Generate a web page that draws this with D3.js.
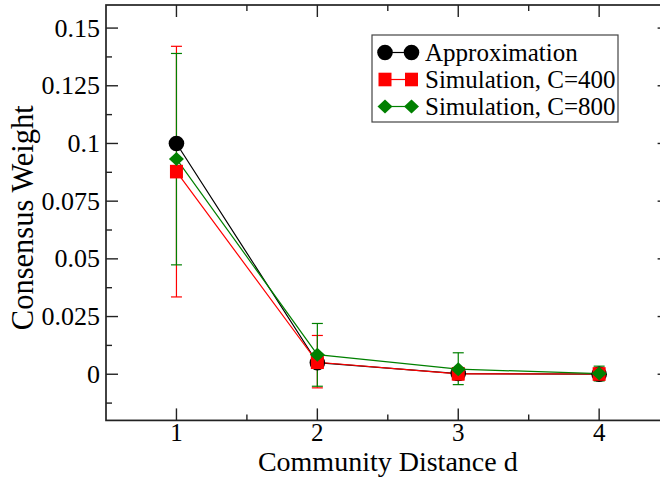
<!DOCTYPE html>
<html>
<head>
<meta charset="utf-8">
<script src="https://cdn.jsdelivr.net/npm/d3@7"></script>
<style>
  body { margin: 0; background: #fff; }
  text { font-family: "Liberation Serif", "Times New Roman", serif; }
</style>
</head>
<body>
<div id="chart"></div>
<script>
// community distances
const distances = [1, 2, 3, 4];

// approximation (black circles)
const approxValues = [0.1, 0.005, 0.0003, 0.00002];

// simulation C=400 (red squares)
const sim400Values = [0.0878, 0.0052, 0.0002, 0.0001];
const sim400Low = [0.0335, -0.0059, -0.0025, -0.0025];
const sim400High = [0.1421, 0.0168, 0.0029, 0.0027];

// simulation C=800 (green diamonds)
const sim800Values = [0.0933, 0.0085, 0.0022, 0.0003];
const sim800Low = [0.0474, -0.0052, -0.0045, -0.0029];
const sim800High = [0.139, 0.022, 0.0093, 0.0035];

const yTicks = [0, 0.025, 0.05, 0.075, 0.1, 0.125, 0.15];
const yTickLabels = ["0", "0.025", "0.05", "0.075", "0.1", "0.125", "0.15"];
const legendLabels = ["Approximation", "Simulation, C=400", "Simulation, C=800"];

const W = 660, H = 477;
const margin = { top: 5, left: 106, right: -9.6, bottom: 56.6 };
const width = W - margin.left - margin.right;
const height = H - margin.top - margin.bottom;

const svg = d3.select("#chart").append("svg")
    .attr("width", W)
    .attr("height", H);

const g = svg.append("g")
    .attr("transform", `translate(${margin.left}, ${margin.top})`);

const xScale = d3.scaleLinear().domain([0.5, 4.5]).range([0, width]);
const yScale = d3.scaleLinear().domain([-0.02, 0.16]).range([height, 0]);

//series table
const series = [
    { name: legendLabels[0], color: "#000000", shape: "circle", values: approxValues },
    { name: legendLabels[1], color: "#ff0000", shape: "square", values: sim400Values, low: sim400Low, high: sim400High },
    { name: legendLabels[2], color: "#008000", shape: "diamond", values: sim800Values, low: sim800Low, high: sim800High }
];

function drawMarker(sel, shape, color) {
    if (shape === "circle") {
        sel.append("circle").attr("r", 7.8).attr("fill", color);
    } else if (shape === "square") {
        sel.append("rect").attr("x", -6.5).attr("y", -6.8).attr("width", 13).attr("height", 13.6).attr("fill", color);
    } else {
        sel.append("path").attr("d", "M0,-7 L7.5,0 L0,7 L-7.5,0 Z").attr("fill", color);
    }
}

// lines
const line = d3.line().x((d, i) => xScale(distances[i])).y(d => yScale(d));
series.forEach(s => {
    g.append("path")
        .attr("d", line(s.values))
        .attr("fill", "none")
        .attr("stroke", s.color)
        .attr("stroke-width", 1.2);
});

// error bars
series.forEach(s => {
    if (!s.low) return;
    const eb = g.append("g").attr("stroke", s.color).attr("stroke-width", 1.2);
    distances.forEach((d, i) => {
        const x = xScale(d);
        eb.append("line").attr("x1", x).attr("x2", x)
            .attr("y1", yScale(s.low[i])).attr("y2", yScale(s.high[i]));
        [s.low[i], s.high[i]].forEach(v => {
            eb.append("line").attr("x1", x - 5.5).attr("x2", x + 5.5)
                .attr("y1", yScale(v)).attr("y2", yScale(v));
        });
    });
});

// markers
series.forEach(s => {
    s.values.forEach((v, i) => {
        const m = g.append("g").attr("transform", `translate(${xScale(distances[i])}, ${yScale(v)})`);
        drawMarker(m, s.shape, s.color);
    });
});

// axes frame
const axisColor = "#222";
g.append("rect")
    .attr("width", width).attr("height", height)
    .attr("fill", "none").attr("stroke", axisColor).attr("stroke-width", 1.7);

const xMajor = distances;
const xMinor = [1.5, 2.5, 3.5];
const yMinor = [-0.0125, 0.0125, 0.0375, 0.0625, 0.0875, 0.1125, 0.1375];

const ticks = g.append("g").attr("stroke", axisColor).attr("stroke-width", 1.4);
xMajor.forEach(v => {
    ticks.append("line").attr("x1", xScale(v)).attr("x2", xScale(v)).attr("y1", height).attr("y2", height - 12);
    ticks.append("line").attr("x1", xScale(v)).attr("x2", xScale(v)).attr("y1", 0).attr("y2", 12);
});
xMinor.forEach(v => {
    ticks.append("line").attr("x1", xScale(v)).attr("x2", xScale(v)).attr("y1", height).attr("y2", height - 6);
    ticks.append("line").attr("x1", xScale(v)).attr("x2", xScale(v)).attr("y1", 0).attr("y2", 6);
});
yTicks.forEach(v => {
    ticks.append("line").attr("x1", 0).attr("x2", 12).attr("y1", yScale(v)).attr("y2", yScale(v));
    ticks.append("line").attr("x1", width).attr("x2", width - 12).attr("y1", yScale(v)).attr("y2", yScale(v));
});
yMinor.forEach(v => {
    ticks.append("line").attr("x1", 0).attr("x2", 6).attr("y1", yScale(v)).attr("y2", yScale(v));
    ticks.append("line").attr("x1", width).attr("x2", width - 6).attr("y1", yScale(v)).attr("y2", yScale(v));
});

// tick labels
g.selectAll(".ylab")
    .data(yTicks)
    .join("text")
    .attr("class", "ylab")
    .attr("x", -6)
    .attr("y", d => yScale(d))
    .attr("dy", "0.33em")
    .attr("text-anchor", "end")
    .style("font-size", "26px")
    .text((d, i) => yTickLabels[i]);

g.selectAll(".xlab")
    .data(xMajor)
    .join("text")
    .attr("class", "xlab")
    .attr("x", d => xScale(d))
    .attr("y", height + 20.5)
    .attr("text-anchor", "middle")
    .style("font-size", "25px")
    .text(d => d);

// axis titles
g.append("text")
    .attr("x", width / 2)
    .attr("y", height + 51)
    .attr("text-anchor", "middle")
    .style("font-size", "28px")
    .text("Community Distance d");

g.append("text")
    .attr("transform", `translate(${33 - margin.left}, ${height / 2 + 5}) rotate(-90)`)
    .attr("text-anchor", "middle")
    .style("font-size", "30.5px")
    .text("Consensus Weight");

// legend
const legend = svg.append("g").attr("transform", "translate(372, 35)");
legend.append("rect")
    .attr("width", 246).attr("height", 87)
    .attr("fill", "#fff").attr("stroke", "#444").attr("stroke-width", 1.2);

series.forEach((s, i) => {
    const row = legend.append("g").attr("transform", `translate(0, ${17.5 + i * 27})`);
    row.append("line").attr("x1", 13).attr("x2", 39.5).attr("y1", 0).attr("y2", 0)
        .attr("stroke", s.color).attr("stroke-width", 1.2);
    [13, 39.5].forEach(x => {
        const m = row.append("g").attr("transform", `translate(${x}, 0)`);
        drawMarker(m, s.shape, s.color);
    });
    row.append("text")
        .attr("x", 53)
        .attr("y", 0)
        .attr("dy", "0.35em")
        .style("font-size", "25px")
        .text(s.name);
});
</script>
</body>
</html>
